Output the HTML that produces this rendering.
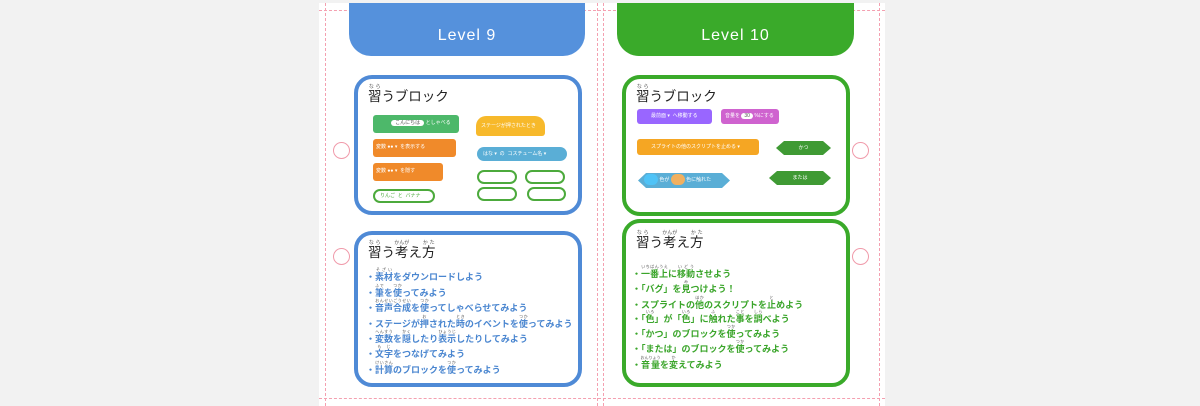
<!DOCTYPE html>
<html><head><meta charset="utf-8"><style>
*{margin:0;padding:0;box-sizing:border-box}
body{width:1200px;height:406px;background:#f2f2f2;position:relative;overflow:hidden;font-family:"Liberation Sans","Noto Sans CJK JP",sans-serif}
.a{position:absolute}
.page{left:319px;top:3px;width:566px;height:403px;background:#fff}
.dv{width:0;border-left:1px dashed #f4a0b0}
.dh{height:0;border-top:1px dashed #f4a0b0}
.hdr{height:53px;border-radius:0 0 22px 22px;color:#fff;font-size:16px;text-align:center;line-height:66px;letter-spacing:1px;font-family:"Liberation Sans","DejaVu Sans",sans-serif}
.box{border:4px solid;border-radius:18px;background:#fff}
.circ{width:17px;height:17px;border:1px solid #f09aaa;border-radius:50%;background:#fff}
.t{font-size:13.5px;color:#222}
rt{font-size:5px;color:#555}
.li{font-size:9px;font-weight:bold;white-space:nowrap}
.li rt{font-size:4px;font-weight:normal}
.b{border-radius:3px;color:#fff;font-size:5px;line-height:17px;padding-left:14px;white-space:nowrap}
.ov{border-radius:8px;border:2px solid #4caa3c;background:#fff}
.hex{clip-path:polygon(8px 0,calc(100% - 8px) 0,100% 50%,calc(100% - 8px) 100%,8px 100%,0 50%);color:#fff;font-size:5px;text-align:center;white-space:nowrap}
</style></head><body>
<div class="a page"></div>
<div class="a dv" style="left:325px;top:3px;height:403px"></div>
<div class="a dv" style="left:597px;top:3px;height:403px"></div>
<div class="a dv" style="left:603px;top:3px;height:403px"></div>
<div class="a dv" style="left:879px;top:3px;height:403px"></div>
<div class="a dh" style="left:319px;top:10px;width:566px"></div>
<div class="a dh" style="left:319px;top:398px;width:566px"></div>

<div class="a hdr" style="left:349px;top:3px;width:236px;background:#5591dc">Level 9</div>
<div class="a hdr" style="left:617px;top:3px;width:237px;background:#3aaa2a">Level 10</div>

<div class="a circ" style="left:333px;top:142px"></div>
<div class="a circ" style="left:333px;top:248px"></div>
<div class="a circ" style="left:852px;top:142px"></div>
<div class="a circ" style="left:852px;top:248px"></div>

<!-- left top -->
<div class="a box" style="left:354px;top:75px;width:228px;height:140px;border-color:#4f8ad6"></div>
<div class="a t" style="left:368px;top:84px"><ruby>習<rt>なら</rt></ruby>うブロック</div>
<div class="a b" style="left:373px;top:115px;width:86px;height:18px;background:#4db86a">&nbsp;&nbsp;&nbsp;<span style="background:#fff;color:#555;border-radius:5px;padding:0 4px">こんにちは</span> としゃべる</div>
<div class="a b" style="left:373px;top:139px;width:83px;height:18px;background:#f08a2a;padding-left:3px">変数 ●● ▾ &nbsp;を表示する</div>
<div class="a b" style="left:373px;top:163px;width:70px;height:18px;background:#f08a2a;padding-left:3px">変数 ●● ▾ &nbsp;を隠す</div>
<div class="a ov" style="left:373px;top:189px;width:62px;height:14px;font-size:5px;line-height:10px;color:#4caa3c;padding-left:5px">りんご &nbsp;と &nbsp;バナナ</div>
<div class="a b" style="left:476px;top:116px;width:69px;height:20px;background:#f7b92b;border-radius:10px 10px 3px 3px;padding-left:5px;line-height:20px">ステージが押されたとき</div>
<div class="a b" style="left:477px;top:147px;width:90px;height:14px;background:#5aaed6;border-radius:7px;padding-left:6px;line-height:14px">はな ▾ &nbsp;の &nbsp;コスチューム名 ▾</div>
<div class="a ov" style="left:477px;top:170px;width:40px;height:14px"></div>
<div class="a ov" style="left:525px;top:170px;width:40px;height:14px"></div>
<div class="a ov" style="left:477px;top:187px;width:40px;height:14px"></div>
<div class="a ov" style="left:527px;top:187px;width:39px;height:14px"></div>

<!-- left bottom -->
<div class="a box" style="left:354px;top:231px;width:228px;height:156px;border-color:#4f8ad6"></div>
<div class="a t" style="left:368px;top:240px"><ruby>習<rt>なら</rt></ruby>う<ruby>考<rt>かんが</rt></ruby>え<ruby>方<rt>かた</rt></ruby></div>
<div class="a" style="left:366px;top:263px;color:#4a86d0">
<div class="li" style="position:absolute;top:4px">・<ruby>素材<rt>そざい</rt></ruby>をダウンロードしよう</div>
<div class="li" style="position:absolute;top:20px">・<ruby>筆<rt>ふで</rt></ruby>を<ruby>使<rt>つか</rt></ruby>ってみよう</div>
<div class="li" style="position:absolute;top:35px">・<ruby>音声合成<rt>おんせいごうせい</rt></ruby>を<ruby>使<rt>つか</rt></ruby>ってしゃべらせてみよう</div>
<div class="li" style="position:absolute;top:51px">・ステージが<ruby>押<rt>お</rt></ruby>された<ruby>時<rt>とき</rt></ruby>のイベントを<ruby>使<rt>つか</rt></ruby>ってみよう</div>
<div class="li" style="position:absolute;top:66px">・<ruby>変数<rt>へんすう</rt></ruby>を<ruby>隠<rt>かく</rt></ruby>したり<ruby>表示<rt>ひょうじ</rt></ruby>したりしてみよう</div>
<div class="li" style="position:absolute;top:81px">・<ruby>文字<rt>もじ</rt></ruby>をつなげてみよう</div>
<div class="li" style="position:absolute;top:97px">・<ruby>計算<rt>けいさん</rt></ruby>のブロックを<ruby>使<rt>つか</rt></ruby>ってみよう</div>
</div>

<!-- right top -->
<div class="a box" style="left:622px;top:75px;width:228px;height:141px;border-color:#3aaa2a"></div>
<div class="a t" style="left:636px;top:84px"><ruby>習<rt>なら</rt></ruby>うブロック</div>
<div class="a b" style="left:637px;top:109px;width:75px;height:15px;background:#9966ff;line-height:15px">最前面 ▾ &nbsp;へ移動する</div>
<div class="a b" style="left:721px;top:109px;width:58px;height:15px;background:#cf63cf;line-height:15px;padding-left:4px">音量を <span style="background:#fff;color:#555;border-radius:5px;padding:0 3px">30</span> %にする</div>
<div class="a b" style="left:637px;top:139px;width:122px;height:16px;background:#f5a623;line-height:16px">スプライトの他のスクリプトを止める ▾</div>
<div class="a hex" style="left:776px;top:141px;width:55px;height:14px;line-height:14px;background:#3f9a34">かつ</div>
<div class="a hex" style="left:638px;top:173px;width:92px;height:15px;line-height:15px;background:#5aaed6;text-align:left;padding-left:6px"><span style="display:inline-block;width:14px;height:11px;border-radius:6px;background:#4fc3f7;vertical-align:middle"></span> 色が <span style="display:inline-block;width:14px;height:11px;border-radius:6px;background:#f0b060;vertical-align:middle"></span> 色に触れた</div>
<div class="a hex" style="left:769px;top:171px;width:62px;height:14px;line-height:14px;background:#3f9a34">または</div>

<!-- right bottom -->
<div class="a box" style="left:622px;top:219px;width:228px;height:168px;border-color:#3aaa2a"></div>
<div class="a t" style="left:636px;top:230px"><ruby>習<rt>なら</rt></ruby>う<ruby>考<rt>かんが</rt></ruby>え<ruby>方<rt>かた</rt></ruby></div>
<div class="a" style="left:632px;top:260px;color:#3aa52a">
<div class="li" style="position:absolute;top:4px">・<ruby>一番上<rt>いちばんうえ</rt></ruby>に<ruby>移動<rt>いどう</rt></ruby>させよう</div>
<div class="li" style="position:absolute;top:19px">・「バグ」を<ruby>見<rt>み</rt></ruby>つけよう！</div>
<div class="li" style="position:absolute;top:35px">・スプライトの<ruby>他<rt>ほか</rt></ruby>のスクリプトを<ruby>止<rt>と</rt></ruby>めよう</div>
<div class="li" style="position:absolute;top:49px">・「<ruby>色<rt>いろ</rt></ruby>」が「<ruby>色<rt>いろ</rt></ruby>」に<ruby>触<rt>ふ</rt></ruby>れた<ruby>事<rt>こと</rt></ruby>を<ruby>調<rt>しら</rt></ruby>べよう</div>
<div class="li" style="position:absolute;top:64px">・「かつ」のブロックを<ruby>使<rt>つか</rt></ruby>ってみよう</div>
<div class="li" style="position:absolute;top:79px">・「または」のブロックを<ruby>使<rt>つか</rt></ruby>ってみよう</div>
<div class="li" style="position:absolute;top:95px">・<ruby>音量<rt>おんりょう</rt></ruby>を<ruby>変<rt>か</rt></ruby>えてみよう</div>
</div>
</body></html>
